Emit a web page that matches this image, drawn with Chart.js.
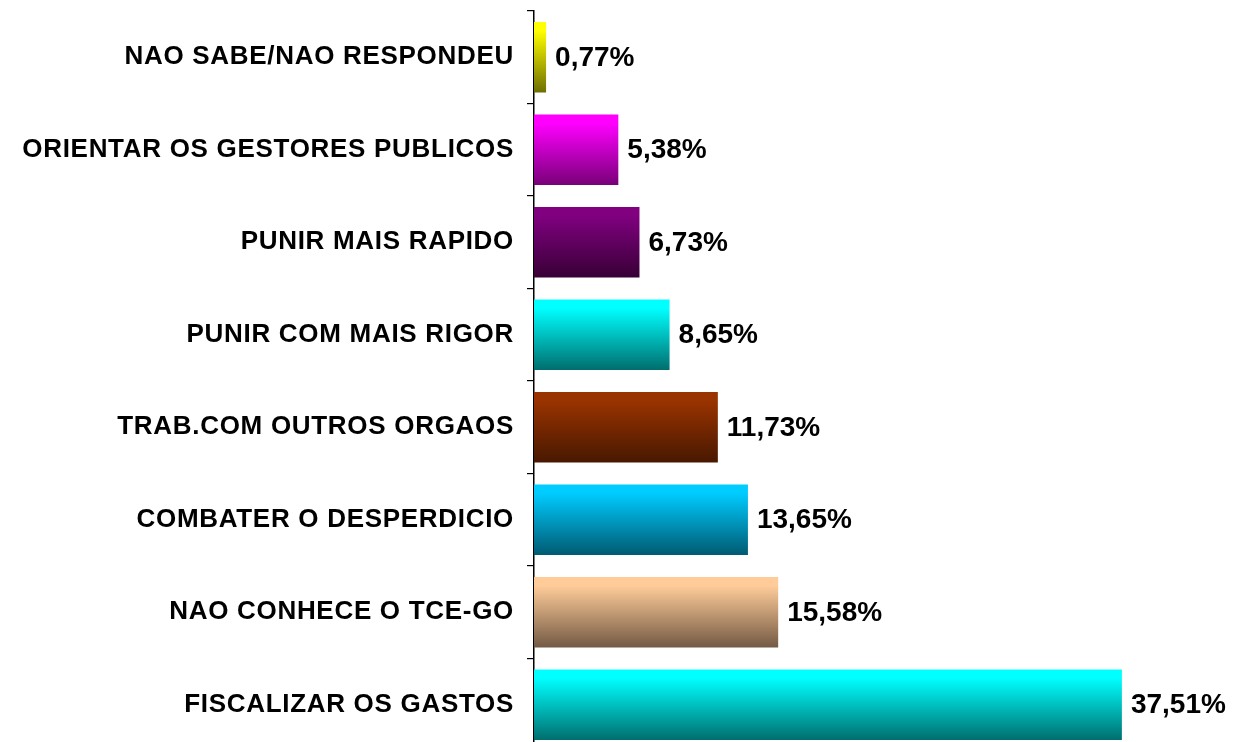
<!DOCTYPE html>
<html>
<head>
<meta charset="utf-8">
<script src="https://cdn.jsdelivr.net/npm/chart.js@4"></script>
<style>
    html, body { margin: 0; padding: 0; background: #fff; overflow: hidden; }
    #wrap { width: 1233px; height: 751px; }
</style>
</head>
<body>
<div id="wrap"><canvas id="chart"></canvas></div>
<script>
const categories = [
    'NAO SABE/NAO RESPONDEU',
    'ORIENTAR OS GESTORES PUBLICOS',
    'PUNIR MAIS RAPIDO',
    'PUNIR COM MAIS RIGOR',
    'TRAB.COM OUTROS ORGAOS',
    'COMBATER O DESPERDICIO',
    'NAO CONHECE O TCE-GO',
    'FISCALIZAR OS GASTOS'
];
const values = [0.77, 5.38, 6.73, 8.65, 11.73, 13.65, 15.58, 37.51];
const topColors = ['#FFFF00', '#FF00FF', '#800080', '#00FFFF', '#993300', '#00CCFF', '#FFCC99', '#00FFFF'];
const bottomColors = ['#6E6E00', '#780078', '#380036', '#006E6E', '#481800', '#005A72', '#735A44', '#006E6E'];

const BAR_PCT = 0.76;
const FAMILY = '"Liberation Sans", Arial, sans-serif';
const LABEL_FONT = { family: FAMILY, size: 26, weight: 'bold' };
const VALUE_FONT = { family: FAMILY, size: 28, weight: 'bold' };

// vertical gradient per bar, bright on top, darker at the bottom
function barGradient(ctx) {
    const chart = ctx.chart;
    const yScale = chart.scales.y;
    const i = ctx.dataIndex;
    if (!chart.chartArea || !yScale) return topColors[i];
    const cy = yScale.getPixelForValue(i);
    const h = (yScale.height / categories.length) * BAR_PCT / 2;
    if (!isFinite(cy) || !isFinite(h)) return topColors[i];
    const g = chart.ctx.createLinearGradient(0, cy - h, 0, cy + h);
    g.addColorStop(0, topColors[i]);
    g.addColorStop(0.12, topColors[i]);
    g.addColorStop(1, bottomColors[i]);
    return g;
}

// wider letter spacing for the category labels
const labelSpacing = {
    id: 'labelSpacing',
    beforeDraw(chart) { chart.ctx.letterSpacing = '0.7px'; }
};

const valueLabels = {
    id: 'valueLabels',
    afterDatasetsDraw(chart) {
        const ctx = chart.ctx;
        ctx.save();
        ctx.letterSpacing = '0px';
        ctx.font = `${VALUE_FONT.weight} ${VALUE_FONT.size}px ${VALUE_FONT.family}`;
        ctx.fillStyle = '#000';
        ctx.textAlign = 'left';
        ctx.textBaseline = 'middle';
        chart.getDatasetMeta(0).data.forEach((bar, i) => {
            const txt = values[i].toFixed(2).replace('.', ',') + '%';
            ctx.fillText(txt, bar.x + 9, bar.y + 1);
        });
        ctx.restore();
    }
};

new Chart(document.getElementById('chart'), {
    type: 'bar',
    data: {
        labels: categories,
        datasets: [{
            data: values,
            backgroundColor: barGradient,
            borderWidth: 0,
            categoryPercentage: 1,
            barPercentage: BAR_PCT
        }]
    },
    options: {
        indexAxis: 'y',
        responsive: true,
        maintainAspectRatio: false,
        animation: false,
        layout: { padding: { top: 11, right: 0, bottom: 0, left: 0 } },
        plugins: { legend: { display: false }, tooltip: { enabled: false } },
        scales: {
            x: { display: false, min: 0, max: 44.6 },
            y: {
                afterFit: (scale) => {
                    scale.width = 534;
                    scale.paddingTop = 0;
                    scale.paddingBottom = 0;
                },
                border: { display: true, color: '#000', width: 1.5 },
                grid: { drawOnChartArea: false, drawTicks: true, tickLength: 7, color: '#000', lineWidth: 1.2 },
                ticks: { color: '#000', font: LABEL_FONT, padding: 13 }
            }
        }
    },
    plugins: [labelSpacing, valueLabels]
});
</script>
</body>
</html>
